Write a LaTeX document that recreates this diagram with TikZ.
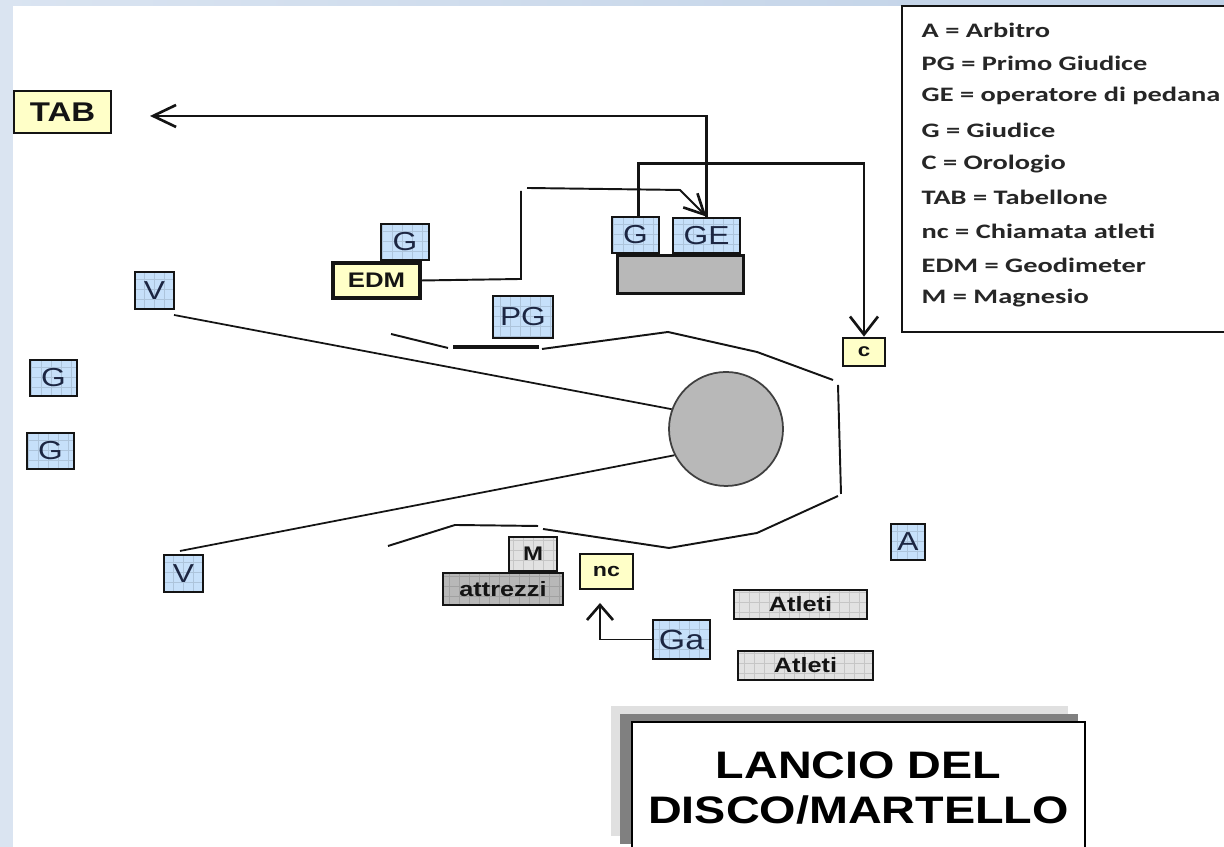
\documentclass[tikz,border=0pt]{standalone}
\usepackage{fontspec}
\setmainfont[FakeStretch=1.22]{Liberation Sans}
\newfontfamily\legendfont[FakeStretch=1.38]{Carlito}
\usepackage{xcolor}
\definecolor{slideblue}{RGB}{218,228,241}
\definecolor{slidetop}{RGB}{190,208,230}
\definecolor{boxblue}{RGB}{198,224,250}
\definecolor{boxyellow}{RGB}{255,255,200}
\definecolor{boxgray}{RGB}{226,226,226}
\definecolor{platgray}{RGB}{184,184,184}
\definecolor{inkdark}{RGB}{20,20,20}
\definecolor{inknavy}{RGB}{28,38,66}
\usetikzlibrary{arrows.meta, positioning}
\tikzset{
  labelbox/.style={draw=inkdark, line width=0.75pt, inner sep=0pt, align=center, text=inkdark, font=\fontsize{7.4}{8}\selectfont},
  gridded/.style={path picture={\draw[black, draw opacity=0.12, line width=0.15pt, step=0.1] (path picture bounding box.south west) grid (path picture bounding box.north east);}},
  judge/.style={labelbox, gridded, fill=boxblue, text=inknavy},
  device/.style={labelbox, fill=boxyellow, font=\fontsize{6}{8}\selectfont\bfseries},
  crowd/.style={labelbox, gridded, fill=boxgray, line width=0.7pt, font=\fontsize{5.9}{6}\selectfont\bfseries},
  fence/.style={draw=inkdark, line width=0.55pt},
  sector/.style={draw=inkdark, line width=0.5pt},
  wire/.style={draw=inkdark, line width=0.8pt},
  wirearrow/.style 2 args={wire, -{Straight Barb[length=#1, width=#2, line width=0.75pt]}},
  legendline/.style={anchor=west, inner sep=0pt, font=\legendfont\fontsize{5.85}{7}\selectfont\bfseries, text=black!85}
}
\begin{document}
\begin{tikzpicture}
  \useasboundingbox (0,0) rectangle (12.24,8.47);
  % Slide background
  \fill[slideblue] (0,0) rectangle (12.24,8.47);
  \shade[left color=slideblue, right color=slidetop] (0,8.41) rectangle (12.24,8.47);
  \fill[white] (0.13,0) rectangle (12.24,8.41);

  % Title shadows and box
  \fill[black!12] (6.11,0.11) rectangle (10.68,1.41);
  \fill[black!50] (6.20,0.03) rectangle (10.78,1.33);
  \node[draw=black, line width=0.6pt, fill=white, minimum width=4.53cm, minimum height=1.32cm, inner sep=0pt, align=center, font=\fontsize{10.9}{12.6}\selectfont\bfseries] (title) at (8.585,0.59) {LANCIO DEL\\DISCO/MARTELLO};

  % Sector lines and cage
  \node[circle, draw=black!75, line width=0.5pt, fill=platgray, minimum size=1.14cm, inner sep=0pt] (ring) at (7.26,4.18) {};
  \coordinate (sectorup) at (1.74,5.32);
  \coordinate (sectordown) at (1.80,2.96);
  \draw[sector] (sectorup) -- (ring.160);
  \draw[sector] (sectordown) -- (ring.207);

  % Upper fence
  \draw[fence] (3.91,5.13) -- (4.48,4.99);
  \draw[line width=1.2pt, draw=inkdark] (4.53,5.00) -- (5.39,5.00);
  \draw[fence] (5.42,4.98) -- (6.68,5.15) -- (7.57,4.95) -- (8.33,4.67);
  % Right side
  \draw[fence] (8.38,4.62) -- (8.41,3.53);
  % Lower fence
  \draw[fence] (8.38,3.51) -- (7.57,3.14) -- (6.69,2.99) -- (5.43,3.18);
  \draw[fence] (5.38,3.21) -- (4.55,3.22) -- (3.88,3.01);

  % Panels
  \node[draw=inkdark, line width=0.85pt, fill=platgray, minimum width=1.26cm, minimum height=0.38cm, inner sep=0pt] (platform) at (6.80,5.72) {};

  % Judges
  \node[judge, minimum width=0.48cm, minimum height=0.36cm] (edmjudge) at (4.05,6.05) {G};
  \node[judge, minimum width=0.47cm, minimum height=0.36cm] (platjudge) at (6.355,6.12) {G};
  \node[judge, minimum width=0.67cm, minimum height=0.35cm] (operator) at (7.065,6.115) {GE};
  \node[judge, minimum width=0.60cm, minimum height=0.42cm] (chief) at (5.23,5.30) {PG};
  \node[judge, minimum width=0.39cm, minimum height=0.37cm] (viceup) at (1.545,5.565) {V};
  \node[judge, minimum width=0.39cm, minimum height=0.37cm] (vicedown) at (1.835,2.735) {V};
  \node[judge, minimum width=0.47cm, minimum height=0.36cm] (fielda) at (0.535,4.69) {G};
  \node[judge, minimum width=0.47cm, minimum height=0.36cm] (fieldb) at (0.505,3.96) {G};
  \node[judge, minimum width=0.34cm, minimum height=0.36cm] (referee) at (9.08,3.05) {A};
  \node[judge, minimum width=0.57cm, minimum height=0.39cm, font=\fontsize{7.9}{8}\selectfont] (caller) at (6.815,2.075) {Ga};

  % Devices
  \node[device, minimum width=0.97cm, minimum height=0.42cm, font=\fontsize{7.7}{8}\selectfont\bfseries] (board) at (0.625,7.35) {TAB};
  \node[device, line width=1.1pt, minimum width=0.87cm, minimum height=0.35cm] (edm) at (3.765,5.665) {EDM};
  \node[device, minimum width=0.42cm, minimum height=0.28cm, font=\fontsize{5.2}{6}\selectfont\bfseries] (clock) at (8.64,4.95) {c};
  \node[device, minimum width=0.53cm, minimum height=0.35cm, font=\fontsize{5.4}{6}\selectfont\bfseries] (callbox) at (6.065,2.755) {nc};

  % Gear and athletes
  \node[crowd, minimum width=0.48cm, minimum height=0.34cm, font=\fontsize{5.6}{6}\selectfont\bfseries] (chalk) at (5.33,2.93) {M};
  \node[crowd, fill=platgray, minimum width=1.20cm, minimum height=0.32cm] (gear) at (5.03,2.58) {attrezzi};
  \node[crowd, minimum width=1.33cm, minimum height=0.29cm] (athletesa) at (8.005,2.425) {Atleti};
  \node[crowd, minimum width=1.35cm, minimum height=0.29cm] (athletesb) at (8.055,1.815) {Atleti};

  % Connectors
  \coordinate (boardtip) at (1.50,7.31);
  \draw[wirearrow={2.3mm}{2.2mm}, line width=0.65pt] (operator.north) |- (boardtip);
  \draw[wirearrow={1.8mm}{2.8mm}] ([xshift=0.03cm]platjudge.north) -- ++(0,0.52) -| (clock.north);
  \coordinate (edmbend) at (5.21,5.68);
  \coordinate (edmrise) at (5.21,6.56);
  \coordinate (edmrun) at (5.27,6.59);
  \coordinate (edmkink) at (6.80,6.57);
  \draw[wire, line width=0.55pt] (edm.east) -- (edmbend) -- (edmrise);
  \draw[wirearrow={2mm}{2mm}, line width=0.55pt] (edmrun) -- (edmkink) -- (operator.north);
  \coordinate (calltip) at (6.00,2.44);
  \draw[wirearrow={1.5mm}{2.6mm}, line width=0.55pt] (caller.west) -| (calltip);

  % Legend
  \node[draw=inkdark, line width=0.5pt, fill=white, minimum width=3.6cm, minimum height=3.26cm, inner sep=0pt] (legendbox) at (10.82,6.78) {};
  \node[legendline] (lega) at (9.21,8.17) {A = Arbitro};
  \node[legendline] (legb) at (9.21,7.84) {PG = Primo Giudice};
  \node[legendline] (legc) at (9.21,7.51) {GE = operatore di pedana};
  \node[legendline] (legd) at (9.21,7.17) {G = Giudice};
  \node[legendline] (lege) at (9.21,6.83) {C = Orologio};
  \node[legendline] (legf) at (9.21,6.50) {TAB = Tabellone};
  \node[legendline] (legg) at (9.21,6.16) {nc = Chiamata atleti};
  \node[legendline] (legh) at (9.21,5.82) {EDM = Geodimeter};
  \node[legendline] (legi) at (9.21,5.49) {M = Magnesio};
\end{tikzpicture}
\end{document}
